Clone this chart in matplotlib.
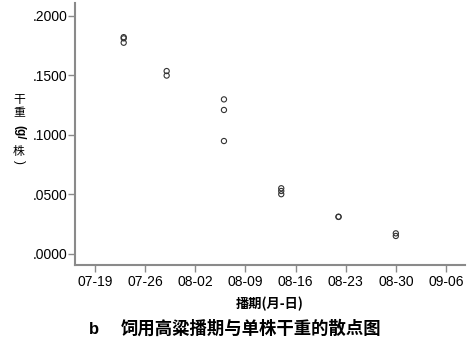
import matplotlib
matplotlib.use("Agg")
import matplotlib.pyplot as plt
import datetime as dt

# Data
sow_dates = ["07-23", "07-23", "07-23", "07-29", "07-29",
             "08-06", "08-06", "08-06",
             "08-14", "08-14", "08-14",
             "08-22", "08-22", "08-30", "08-30"]
dry_weight = [0.182, 0.181, 0.1773, 0.1535, 0.1497,
              0.1297, 0.1208, 0.0947,
              0.0550, 0.0527, 0.0500,
              0.0311, 0.0309, 0.0171, 0.0149]
xtick_labels = ["07-19", "07-26", "08-02", "08-09", "08-16", "08-23", "08-30", "09-06"]
ytick_values = [0.0, 0.05, 0.10, 0.15, 0.20]
ytick_labels = [".0000", ".0500", ".1000", ".1500", ".2000"]

YEAR = 2013
def to_date(s):
    m, d = s.split("-")
    return dt.datetime(YEAR, int(m), int(d))

xs = [to_date(s) for s in sow_dates]
xt = [to_date(s) for s in xtick_labels]

fig = plt.figure(figsize=(4.71, 3.37), dpi=100)
ax = fig.add_axes([75/471, 1-265/337, (465-75)/471, (265-3)/337])

gray = "#8a8a8a"
ax.scatter(xs, dry_weight, s=14, facecolors="none", edgecolors="#333333", linewidths=0.8, zorder=3)

ax.set_xlim(to_date("07-19") - dt.timedelta(days=2.8), to_date("09-06") + dt.timedelta(days=2.66))
ax.set_ylim(-0.0095, 0.2107)
ax.set_xticks(xt)
ax.set_xticklabels(xtick_labels, fontsize=10, family="Liberation Sans")
ax.set_yticks(ytick_values)
ax.set_yticklabels(ytick_labels, fontsize=10, family="Liberation Sans")

for side in ["top", "right"]:
    ax.spines[side].set_visible(False)
for side in ["left", "bottom"]:
    ax.spines[side].set_color(gray)
    ax.spines[side].set_linewidth(1.5)
ax.tick_params(axis="both", direction="out", length=5, width=1.0, color=gray, pad=0.5)
ax.tick_params(axis="x", pad=2)

cjk = ["Noto Sans CJK SC", "DejaVu Sans"]
# vertical y label
lx = 19/471
fig.text(lx, 1-100/337, "干", fontsize=8.5, family=cjk, ha="center", va="center")
fig.text(lx, 1-113/337, "重", fontsize=8.5, family=cjk, ha="center", va="center")
fig.text(lx, 1-132/337, "(g/", fontsize=8.5, family="Liberation Sans", ha="center", va="center",
         rotation=-90, weight="bold")
fig.text(lx, 1-151/337, "株", fontsize=8.5, family=cjk, ha="center", va="center")
fig.text(lx, 1-162/337, ")", fontsize=8.5, family="Liberation Sans", ha="center", va="center", rotation=-90)

fig.text(270/471, 1-304/337, "播期(月-日)", fontsize=9.5, family=cjk, ha="center", va="center", weight="bold")
fig.text(94/471, 1-329/337, "b", fontsize=12, family="Liberation Sans", ha="center", va="center", weight="bold")
fig.text(251/471, 1-329/337, "饲用高粱播期与单株干重的散点图", fontsize=12.5, family=cjk, ha="center",
         va="center", weight="bold")

fig.savefig("out.png", dpi=100)
